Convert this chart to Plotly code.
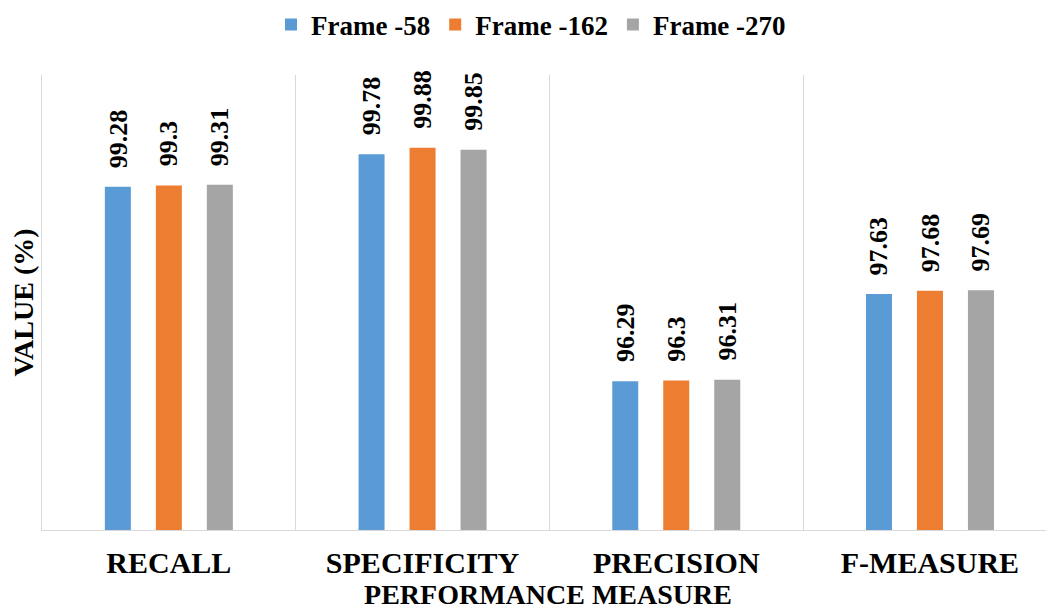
import plotly.graph_objects as go

categories = ["RECALL", "SPECIFICITY", "PRECISION", "F-MEASURE"]
series_names = ["Frame -58", "Frame -162", "Frame -270"]
frame_58 = [99.28, 99.78, 96.29, 97.63]
frame_162 = [99.3, 99.88, 96.3, 97.68]
frame_270 = [99.31, 99.85, 96.31, 97.69]
series_values = [frame_58, frame_162, frame_270]
colors = ["#5B9BD5", "#ED7D31", "#A5A5A5"]

FONT = "Times New Roman, Liberation Serif, serif"
# page body has an 8px margin, so the figure is sized to fit the window
W, H = 1046, 608
ML, MR, MT, MB = 34, 0, 67, 86
cat_px = 253.7
bargap = 0.397
slot_px = cat_px * (1 - bargap) / 3

fig = go.Figure()
for name, vals, col in zip(series_names, series_values, colors):
    fig.add_trace(go.Bar(x=categories, y=vals, name=name, marker_color=col,
                         marker_line_width=0))

for i, vals in enumerate(series_values):
    for cat, v in zip(categories, vals):
        fig.add_annotation(x=cat, y=v, text=str(v), showarrow=False,
                           textangle=-90, xanchor="center", yanchor="bottom",
                           xshift=(i - 1) * slot_px, yshift=17,
                           font=dict(family=FONT, size=26, color="#000000", weight="bold"))

x_end = -0.5 + (W - ML - MR) / cat_px
fig.update_layout(
    width=W, height=H,
    margin=dict(l=ML, r=MR, t=MT, b=MB),
    paper_bgcolor="white", plot_bgcolor="white",
    barmode="group", bargap=bargap, bargroupgap=0.49,
    font=dict(family=FONT, color="#000000", weight="bold"),
    legend=dict(orientation="h", x=0.5, xanchor="center", xref="container",
                y=1 - 17 / H, yref="container", yanchor="middle",
                font=dict(size=27, family=FONT, weight="bold"),
                itemwidth=30, tracegroupgap=0),
    xaxis=dict(range=[-0.5, x_end], tickson="boundaries", showgrid=True,
               gridcolor="#D9D9D9", gridwidth=1, ticks="", showline=True,
               linecolor="#D9D9D9", linewidth=1, automargin=False,
               tickfont=dict(size=30, family=FONT, weight="bold"),
               tickangle=0, ticklabelstandoff=6,
               title=dict(text="PERFORMANCE MEASURE", standoff=3,
                          font=dict(size=28, family=FONT, weight="bold"))),
    yaxis=dict(range=[94, 101], showgrid=False, zeroline=False, showticklabels=False,
               ticks="", showline=True, linecolor="#D9D9D9", linewidth=1,
               automargin=False,
               title=dict(text="VALUE (%)", standoff=1,
                          font=dict(size=28, family=FONT, weight="bold"))),
)

fig.write_html("out.html")
